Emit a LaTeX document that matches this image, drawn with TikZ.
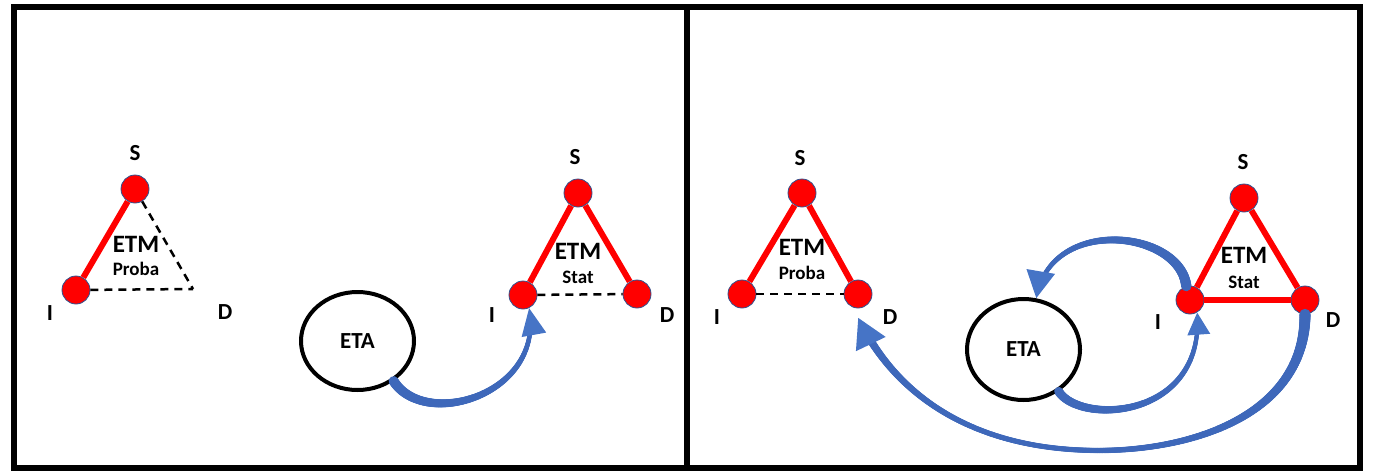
\documentclass[tikz,border=0pt]{standalone}
\usepackage{fontspec}
\setmainfont{Carlito}
\usetikzlibrary{arrows.meta,shapes.geometric,decorations.markings}
\definecolor{abl}{RGB}{62,104,186}
\definecolor{ahd}{RGB}{70,116,198}
\definecolor{vline}{RGB}{47,82,143}
\tikzset{
  vertex/.style={circle,fill=red,draw=vline,line width=0.8pt,minimum size=28pt,inner sep=0pt},
  redge/.style={red,line width=6pt},
  dedge/.style={black,line width=2.5pt,dash pattern=on 8pt off 6pt},
  lbl/.style={font=\bfseries\fontsize{23}{23}\selectfont,inner sep=0pt},
  etm/.style={font=\bfseries\fontsize{25}{25}\selectfont,inner sep=0pt},
  sub/.style={font=\bfseries\fontsize{19}{19}\selectfont,inner sep=0pt},
  eta/.style={ellipse,draw=black,line width=4pt,inner sep=0pt,font=\bfseries\fontsize{23}{23}\selectfont},
  tarrow/.style n args={5}{
    postaction={decorate,decoration={markings,
      mark=between positions 0 and 0.97 step 0.7pt with {%
        \pgfmathsetmacro{\pp}{\pgfkeysvalueof{/pgf/decoration/mark info/distance from start}/\pgfdecoratedpathlength}%
        \pgfmathsetmacro{\tr}{#1*(1-\pp)*(1-\pp)+#2*2*\pp*(1-\pp)+#3*\pp*\pp}%
        \fill[abl] (0,0) circle (\tr pt);}}},
    postaction={decorate,decoration={markings,
      mark=at position 0.999 with {\fill[ahd] (0,0) -- (-#5,#4/2) -- (-#5,-#4/2) -- cycle;}}}}
}
\begin{document}
\begin{tikzpicture}[x=1pt,y=-1pt]
\useasboundingbox (0,0) rectangle (1373,472);
% frames
\draw[line width=6pt] (14,7) rectangle (1360,468);
\coordinate (divT) at (687,7);
\coordinate (divB) at (687,468);
\draw[line width=6pt] (divT) -- (divB);

% ---------- triangle 1 (left, Proba) ----------
\node[vertex] (S1) at (135,189) {};
\node[vertex] (I1) at (76,290) {};
\coordinate (D1) at (193,289);
\draw[redge] (S1) -- (I1);
\draw[dedge] (S1) -- (D1);
\draw[dedge] (I1) -- (D1);
\node[lbl] (lS1) at (135,153) {S};
\node[lbl] (lI1) at (50,313) {I};
\node[lbl] (lD1) at (225,312) {D};
\node[etm] (etm1) at (136,244) {ETM};
\node[sub] (sub1) at (136,269) {Proba};

% ---------- triangle 2 (left, Stat) ----------
\node[vertex] (S2) at (578,193) {};
\node[vertex] (I2) at (523,295) {};
\node[vertex] (D2) at (637,294) {};
\draw[redge] (S2) -- (I2);
\draw[redge] (S2) -- (D2);
\draw[dedge] (I2) -- (D2);
\node[lbl] (lS2) at (575,157) {S};
\node[lbl] (lI2) at (492,315) {I};
\node[lbl] (lD2) at (667,315) {D};
\node[etm] (etm2) at (578,251) {ETM};
\node[sub] (sub2) at (578,277) {Stat};

\node[eta,minimum width=113pt,minimum height=98pt] (ETA1) at (357.5,341) {ETA};

% ---------- triangle 3 (right, Proba) ----------
\node[vertex] (S3) at (802,193) {};
\node[vertex] (I3) at (742,294) {};
\node[vertex] (D3) at (858,294) {};
\draw[redge] (S3) -- (I3);
\draw[redge] (S3) -- (D3);
\draw[dedge] (I3) -- (D3);
\node[lbl] (lS3) at (800,158) {S};
\node[lbl] (lI3) at (717,317) {I};
\node[lbl] (lD3) at (890,317) {D};
\node[etm] (etm3) at (802,247) {ETM};
\node[sub] (sub3) at (802,273) {Proba};

% ---------- triangle 4 (right, Stat) ----------
\node[vertex] (S4) at (1244,198) {};
\node[vertex] (I4) at (1190,300) {};
\node[vertex] (D4) at (1305,300) {};
\draw[redge] (S4) -- (I4);
\draw[redge] (S4) -- (D4);
\draw[redge] (I4) -- (D4);
\node[lbl] (lS4) at (1243,162) {S};
\node[lbl] (lI4) at (1158,322) {I};
\node[lbl] (lD4) at (1333,320) {D};
\node[etm] (etm4) at (1244,255) {ETM};
\node[sub] (sub4) at (1244,282) {Stat};

\node[eta,minimum width=113pt,minimum height=101pt] (ETA2) at (1023.5,349.5) {ETA};

% ---------- curved arrows ----------
\path[tarrow={5}{3.2}{1.9}{25}{27}]
  (ETA1.-48) .. controls (425,430) and (545,395) .. (I2.-65);

\path[tarrow={4.5}{3}{1.9}{23}{22}]
  (ETA2.-50) .. controls (1080,425) and (1205,420) .. (I4.-60);

\path[tarrow={5.2}{3.2}{1.9}{29}{27}]
  (I4.105) .. controls (1180,230) and (1050,215) .. (ETA2.76);

\coordinate (bigmid) at (1080,450);
\path[tarrow={5.6}{0.4}{4.2}{33}{29}]
  (D4.-90) .. controls (1305,420) and (1180,455) .. (bigmid)
  .. controls (970,445) and (895,395) .. ([yshift=-9pt]D3.south);
\end{tikzpicture}
\end{document}
